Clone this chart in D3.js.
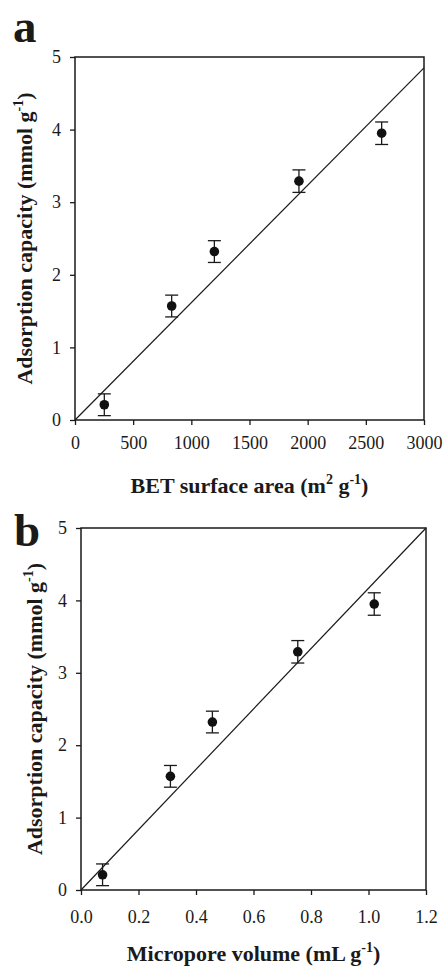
<!DOCTYPE html>
<html>
<head>
  <meta charset="UTF-8" />
  <title>Adsorption capacity</title>
  <script src="https://d3js.org/d3.v7.min.js"></script>
  <style>
    body { margin: 0; background: #fff; }
    svg text { font-family: "Liberation Serif", "Times New Roman", serif; fill: #1a1a1a; }
  </style>
</head>
<body>
  <div id="chart"></div>
  <script>
    // values
    const betArea = [252, 831, 1198, 1925, 2636];
    const microVolume = [0.075, 0.311, 0.457, 0.754, 1.02];
    const capacity = [0.21, 1.57, 2.32, 3.29, 3.95];
    const capacityErr = [0.15, 0.15, 0.15, 0.155, 0.155];
    const fitA = [[0, 0], [3000, 4.85]];
    const fitB = [[0, 0], [1.2, 5]];
    const xTicksA = [0, 500, 1000, 1500, 2000, 2500, 3000];
    const xTicksB = [0, 0.2, 0.4, 0.6, 0.8, 1.0, 1.2];
    const yTicks = [0, 1, 2, 3, 4, 5];

    const FONT = "Liberation Serif, Times New Roman, serif";

    const svg = d3.select("#chart")
      .append("svg")
      .attr("width", 443)
      .attr("height", 969);

    function styleAxis(g) {
      g.attr("font-family", FONT).attr("font-size", 18);
      g.select(".domain").remove();
      g.selectAll("line").attr("stroke", "#1a1a1a").attr("stroke-width", 1.3);
      g.selectAll("text").attr("fill", "#1a1a1a");
    }

    // bold title with superscript parts: [text, isSup]
    function richText(el, parts) {
      let up = false;
      parts.forEach(([t, sup]) => {
        const ts = el.append("tspan").text(t);
        if (sup && !up) { ts.attr("dy", -9).attr("font-size", 14); up = true; }
        else if (sup) { ts.attr("font-size", 14); }
        else if (!sup && up) { ts.attr("dy", 9); up = false; }
      });
    }

    function drawPanel(p) {
      const x = d3.scaleLinear().domain([p.xTicks[0], p.xTicks[p.xTicks.length - 1]]).range([p.left, p.right]);
      const y = d3.scaleLinear().domain([0, 5]).range([p.bottom, p.top]);

      // y axis
      svg.append("g")
        .attr("transform", "translate(" + p.left + ",0)")
        .call(d3.axisLeft(y).tickValues(yTicks).tickSize(5).tickPadding(9).tickFormat(d3.format("d")))
        .call(styleAxis);

      // x axis
      svg.append("g")
        .attr("transform", "translate(0," + p.bottom + ")")
        .call(d3.axisBottom(x).tickValues(p.xTicks).tickSize(5).tickPadding(p.xPad).tickFormat(p.fmt))
        .call(styleAxis);

      // frame
      svg.append("rect")
        .attr("x", p.left).attr("y", p.top)
        .attr("width", p.right - p.left).attr("height", p.bottom - p.top)
        .attr("fill", "none").attr("stroke", "#1a1a1a").attr("stroke-width", 1.5);

      // fit line
      svg.append("path")
        .datum(p.fit)
        .attr("d", d3.line().x(d => x(d[0])).y(d => y(d[1])))
        .attr("fill", "none").attr("stroke", "#1a1a1a").attr("stroke-width", 1.2);

      const pts = p.xs.map((v, i) => ({ x: v, y: capacity[i], e: capacityErr[i] }));

      // error bars
      const eb = svg.append("g").attr("stroke", "#1a1a1a").attr("stroke-width", 1.3);
      eb.selectAll(".v").data(pts).enter().append("line")
        .attr("x1", d => x(d.x)).attr("x2", d => x(d.x))
        .attr("y1", d => y(d.y - d.e)).attr("y2", d => y(d.y + d.e));
      eb.selectAll(".t").data(pts).enter().append("line")
        .attr("x1", d => x(d.x) - 6.5).attr("x2", d => x(d.x) + 6.5)
        .attr("y1", d => y(d.y + d.e)).attr("y2", d => y(d.y + d.e));
      eb.selectAll(".b").data(pts).enter().append("line")
        .attr("x1", d => x(d.x) - 6.5).attr("x2", d => x(d.x) + 6.5)
        .attr("y1", d => y(d.y - d.e)).attr("y2", d => y(d.y - d.e));

      // points
      svg.append("g").selectAll("circle").data(pts).enter().append("circle")
        .attr("cx", d => x(d.x)).attr("cy", d => y(d.y))
        .attr("r", 4.8).attr("fill", "#111");

      // x title
      const xt = svg.append("text")
        .attr("font-family", FONT).attr("font-size", 22).attr("font-weight", "bold")
        .attr("x", (p.left + p.right) / 2).attr("y", p.xTitleY)
        .attr("text-anchor", "middle");
      richText(xt, p.xLabel);

      // y title
      const yt = svg.append("text")
        .attr("font-family", FONT).attr("font-size", 22).attr("font-weight", "bold")
        .attr("transform", "translate(" + p.yTitleX + "," + (p.top + p.bottom) / 2 + ") rotate(-90)")
        .attr("text-anchor", "middle");
      richText(yt, [["Adsorption capacity (mmol g", false], ["-1", true], [")", false]]);

      // panel letter
      svg.append("text")
        .attr("font-family", FONT).attr("font-size", 47).attr("font-weight", "bold")
        .attr("x", p.letterX).attr("y", p.letterY).text(p.name);
    }

    drawPanel({
      name: "a", xs: betArea, xTicks: xTicksA, fit: fitA, fmt: d3.format("d"),
      left: 75, right: 424, top: 57, bottom: 420, xPad: 11,
      xLabel: [["BET surface area (m", false], ["2", true], [" g", false], ["-1", true], [")", false]],
      xTitleY: 493, yTitleX: 32, letterX: 13, letterY: 42
    });

    drawPanel({
      name: "b", xs: microVolume, xTicks: xTicksB, fit: fitB, fmt: d3.format(".1f"),
      left: 81, right: 426, top: 528, bottom: 890, xPad: 15,
      xLabel: [["Micropore volume (mL g", false], ["-1", true], [")", false]],
      xTitleY: 961, yTitleX: 42, letterX: 14, letterY: 546
    });
  </script>
</body>
</html>
